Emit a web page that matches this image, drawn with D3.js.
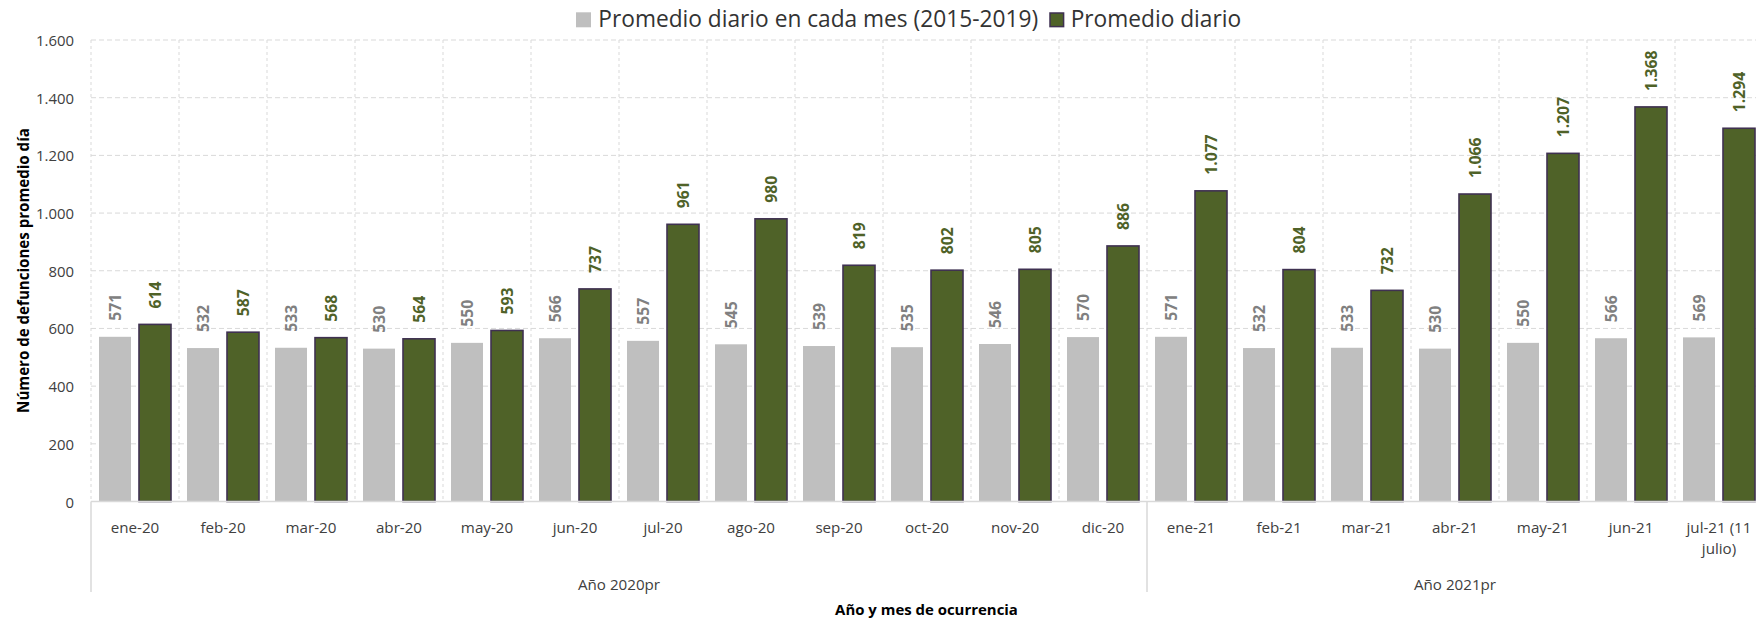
<!DOCTYPE html>
<html><head><meta charset="utf-8">
<script src="https://cdn.jsdelivr.net/npm/d3@7"></script>
<style>html,body{margin:0;padding:0;background:#fff;overflow:hidden}</style>
</head><body>
<svg id="chart" width="1756" height="618"></svg>
<script>
const categories = ["ene-20","feb-20","mar-20","abr-20","may-20","jun-20","jul-20","ago-20","sep-20","oct-20","nov-20","dic-20","ene-21","feb-21","mar-21","abr-21","may-21","jun-21","jul-21 (11 julio)"];
const categoryLines = [["ene-20"],["feb-20"],["mar-20"],["abr-20"],["may-20"],["jun-20"],["jul-20"],["ago-20"],["sep-20"],["oct-20"],["nov-20"],["dic-20"],["ene-21"],["feb-21"],["mar-21"],["abr-21"],["may-21"],["jun-21"],["jul-21 (11","julio)"]];
const historico = [571,532,533,530,550,566,557,545,539,535,546,570,571,532,533,530,550,566,569];
const actual = [614,587,568,564,593,737,961,980,819,802,805,886,1077,804,732,1066,1207,1368,1294];
const yTicks = [0,200,400,600,800,1000,1200,1400,1600];
const groups = [{name:"Año 2020pr", from:"ene-20", to:"dic-20"},{name:"Año 2021pr", from:"ene-21", to:"jul-21 (11 julio)"}];
const seriesNames = ["Promedio diario en cada mes (2015-2019)","Promedio diario"];

(function(){
const FONT = "'Open Sans', 'Noto Sans', sans-serif";
const svg = d3.select("#chart");
const pLeft = 91, pRight = 1763, pTop = 40, pBottom = 501.5;

const x0 = d3.scaleBand().domain(categories).range([pLeft, pRight]).paddingInner(0).paddingOuter(0);
const x1 = d3.scaleBand().domain(["h","a"]).range([8, x0.bandwidth()-8]).paddingInner(0.2).paddingOuter(0);
const y = d3.scaleLinear().domain([0,1600]).range([pBottom, pTop]);
const loc = d3.formatLocale({decimal:",", thousands:".", grouping:[3], currency:["",""]});
const fmt = loc.format(",d");

function fitSize(textSel, target) {
  const w = textSel.node().getComputedTextLength();
  const fs = parseFloat(textSel.attr("font-size"));
  return fs * target / w;
}

// gridlines
const grid = svg.append("g");
grid.selectAll("line.h").data(yTicks.filter(d=>d>0)).join("line")
  .attr("x1", pLeft).attr("x2", pRight).attr("y1", d=>y(d)).attr("y2", d=>y(d))
  .attr("stroke", "#D9D9D9").attr("stroke-width", 1).attr("stroke-dasharray", "5,3");
const vlines = categories.map(c=>x0(c)).concat([pRight]);
grid.selectAll("line.v").data(vlines).join("line")
  .attr("x1", d=>d).attr("x2", d=>d).attr("y1", pTop).attr("y2", pBottom)
  .attr("stroke", "#D9D9D9").attr("stroke-width", 1).attr("stroke-dasharray", "3,3");

// bars
const bars = svg.append("g");
bars.selectAll("rect.h").data(categories).join("rect")
  .attr("x", (c)=>x0(c)+x1("h")).attr("width", x1.bandwidth())
  .attr("y", (c,i)=>y(historico[i])).attr("height", (c,i)=>y(0)-y(historico[i]))
  .attr("fill", "#BFBFBF");
bars.selectAll("rect.a").data(categories).join("rect")
  .attr("x", (c)=>x0(c)+x1("a")).attr("width", x1.bandwidth())
  .attr("y", (c,i)=>y(actual[i])).attr("height", (c,i)=>y(0)-y(actual[i]))
  .attr("fill", "#4F6228").attr("stroke", "#3F3151").attr("stroke-width", 1.6);

// baseline axis
svg.append("line").attr("x1", pLeft).attr("x2", pRight).attr("y1", y(0)).attr("y2", y(0))
  .attr("stroke", "#D9D9D9").attr("stroke-width", 1.5);

// data labels
const lab = svg.append("g").attr("font-family", FONT).attr("font-weight", "bold");
const probe = lab.append("text").attr("font-size", 15).text("1.066");
const labFs = fitSize(probe, 40.5);
probe.remove();
categories.forEach((c,i)=>{
  const cxh = x0(c)+x1("h")+x1.bandwidth()/2;
  const cxa = x0(c)+x1("a")+x1.bandwidth()/2;
  const yh = y(historico[i]) - 16, ya = y(actual[i]) - 16;
  lab.append("text").attr("transform", `translate(${cxh},${yh}) rotate(-90)`)
    .attr("dominant-baseline","central").attr("text-anchor","start")
    .attr("font-size", labFs).attr("fill", "#808080").text(fmt(historico[i]));
  lab.append("text").attr("transform", `translate(${cxa},${ya}) rotate(-90)`)
    .attr("dominant-baseline","central").attr("text-anchor","start")
    .attr("font-size", labFs).attr("fill", "#4F6228").text(fmt(actual[i]));
});

// y axis tick labels
const yax = svg.append("g").attr("font-family", FONT).attr("fill", "#404040");
const p2 = yax.append("text").attr("font-size", 15).text("1.600");
const tickFs = fitSize(p2, 38);
p2.remove();
yax.selectAll("text").data(yTicks).join("text")
  .attr("x", 74).attr("y", d=>y(d)).attr("text-anchor","end").attr("dominant-baseline","central")
  .attr("font-size", tickFs).text(d=>fmt(d));

// category axis structure
const cat = svg.append("g");
const divs = [pLeft, x0(groups[1].from), pRight];
cat.selectAll("line").data(divs).join("line")
  .attr("x1", d=>d).attr("x2", d=>d).attr("y1", y(0)).attr("y2", 592)
  .attr("stroke", "#D9D9D9").attr("stroke-width", 1.5);

const catT = svg.append("g").attr("font-family", FONT).attr("fill", "#404040").attr("text-anchor","middle");
const p3 = catT.append("text").attr("font-size", 15).text("ene-20");
const catFs = fitSize(p3, 48.6);
p3.remove();
categories.forEach((c,i)=>{
  const t = catT.append("text").attr("font-size", catFs).attr("x", x0(c)+x0.bandwidth()/2).attr("y", 532.5);
  categoryLines[i].forEach((ln,j)=>{
    t.append("tspan").attr("x", x0(c)+x0.bandwidth()/2).attr("dy", j===0?0:21).text(ln);
  });
});
groups.forEach(g=>{
  const a = x0(g.from), b = x0(g.to)+x0.bandwidth();
  catT.append("text").attr("font-size", catFs).attr("x", (a+b)/2).attr("y", 589.5).text(g.name);
});

// axis titles
const tt = svg.append("g").attr("font-family", FONT).attr("font-weight","bold").attr("fill","#000");
const xt = tt.append("text").attr("font-size", 14).attr("text-anchor","middle").attr("x", 926.5).attr("y", 614.5).text("Año y mes de ocurrencia");
xt.attr("font-size", fitSize(xt, 183));
const ytt = tt.append("text").attr("font-size", 14).attr("text-anchor","middle")
  .attr("transform","translate(22.7,270.5) rotate(-90)").attr("dominant-baseline","central")
  .text("Número de defunciones promedio día");
ytt.attr("font-size", fitSize(ytt, 285));

// legend
const lg = svg.append("g").attr("font-family", FONT).attr("fill", "#333");
lg.append("rect").attr("x", 576).attr("y", 12.3).attr("width", 15).attr("height", 15).attr("fill", "#BFBFBF");
const l1 = lg.append("text").attr("font-size", 22).attr("x", 598.3).attr("y", 26.7).text(seriesNames[0]);
const legFs = fitSize(l1, 440);
l1.attr("font-size", legFs);
lg.append("rect").attr("x", 1050).attr("y", 13).attr("width", 13.6).attr("height", 13.6).attr("fill", "#4F6228").attr("stroke","#3F3151").attr("stroke-width",1.5);
lg.append("text").attr("font-size", legFs).attr("x", 1070.7).attr("y", 26.7).text(seriesNames[1]);
})();
</script>
</body></html>
